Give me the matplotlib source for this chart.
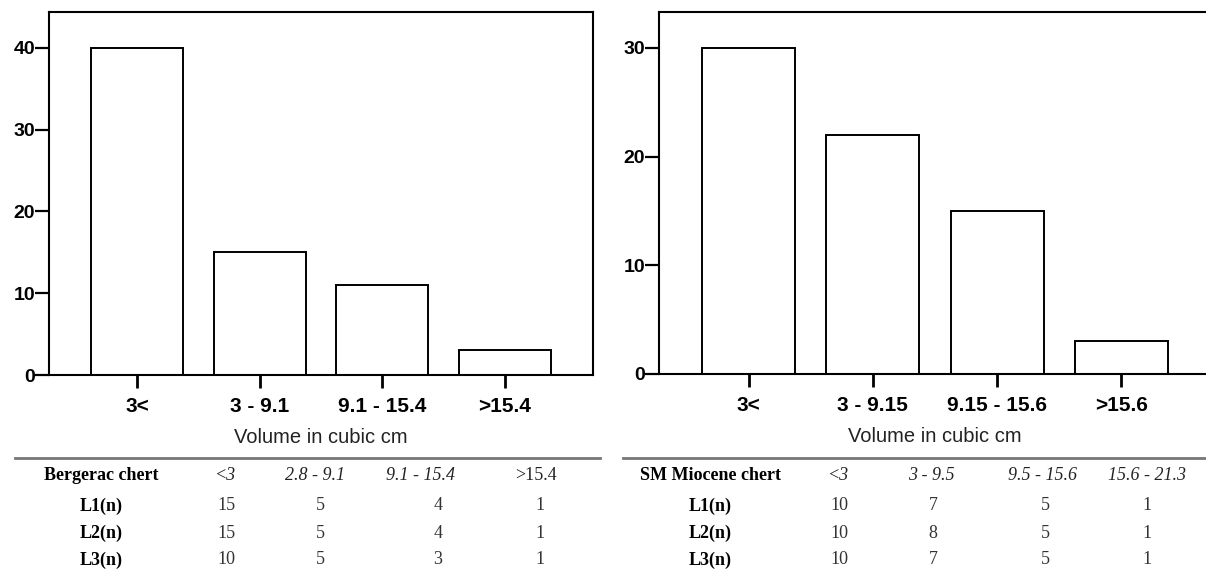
import matplotlib
matplotlib.use('Agg')
import matplotlib.pyplot as plt
from matplotlib.lines import Line2D

# Dados dos histogramas
left_cats = ['3<', '3 - 9.1', '9.1 - 15.4', '>15.4']
left_counts = [40, 15, 11, 3]
right_cats = ['3<', '3 - 9.15', '9.15 - 15.6', '>15.6']
right_counts = [30, 22, 15, 3]

# Dados das tabelas
row_labels = ['L1(n)', 'L2(n)', 'L3(n)']
left_title = 'Bergerac chert'
left_cols = ['<3', '2.8 - 9.1', '9.1 - 15.4', '>15.4']
left_vals = [[15, 5, 4, 1],
             [15, 5, 4, 1],
             [10, 5, 3, 1]]
right_title = 'SM Miocene chert'
right_cols = ['<3', '3 - 9.5', '9.5 - 15.6', '15.6 - 21.3']
right_vals = [[10, 7, 5, 1],
              [10, 8, 5, 1],
              [10, 7, 5, 1]]

W, H = 1206, 576
fig = plt.figure(figsize=(W / 100, H / 100), dpi=100)
SANS = 'Liberation Sans'
SERIF = 'Liberation Serif'


def fx(x):
    return x / W


def fy(y):
    return 1 - y / H


def histograma(x0, x1, y0, y1, cats, counts, ymax, yticks):
    ax = fig.add_axes([fx(x0), fy(y1), (x1 - x0) / W, (y1 - y0) / H])
    pos = list(range(len(cats)))
    ax.bar(pos, counts, width=0.75, color='white', edgecolor='black', linewidth=1.4)
    ax.set_xlim(-0.72, len(cats) - 0.28)
    ax.set_ylim(0, ymax)
    ax.set_xticks(pos)
    ax.set_xticklabels(cats, fontsize=15, fontweight='bold', family=SANS)
    ax.set_yticks(yticks)
    ax.set_yticklabels([str(t) for t in yticks], fontsize=14, fontweight='bold', family=SANS)
    ax.tick_params(axis='y', length=10, width=1.6, pad=0)
    ax.tick_params(axis='x', length=9.5, width=2, pad=6)
    for s in ax.spines.values():
        s.set_linewidth(1.5)
    ax.set_xlabel('Volume in cubic cm', fontsize=14.5, family=SANS, color='#222', labelpad=9)
    return ax


histograma(49, 593, 12, 375, left_cats, left_counts, 44.4, [0, 10, 20, 30, 40])
histograma(659, 1211, 12, 374, right_cats, right_counts, 33.3, [0, 10, 20, 30])


def tabela(x0, x1, title, label_x, col_x, val_x, cols, italic, vals):
    fig.add_artist(Line2D([fx(x0), fx(x1)], [fy(458), fy(458)], transform=fig.transFigure,
                          color='#777777', lw=2))
    y_head = 476
    y_rows = [506, 533, 560]
    fig.text(fx(label_x), fy(y_head), title, ha='center', va='center', family=SERIF,
             fontweight='bold', fontsize=13)
    for c, name in enumerate(cols):
        fig.text(fx(col_x[c]), fy(y_head), name, ha='center', va='center', family=SERIF,
                 style='italic' if italic[c] else 'normal', fontsize=13, color='#222')
    for r, lab in enumerate(row_labels):
        fig.text(fx(label_x), fy(y_rows[r]), lab, ha='center', va='center', family=SERIF,
                 fontweight='bold', fontsize=13)
        for c, v in enumerate(vals[r]):
            fig.text(fx(val_x[c]), fy(y_rows[r]), str(v), ha='center', va='center',
                     family=SERIF, fontsize=13, color='#333')


tabela(15, 600, left_title, 101, [226, 315, 421, 536], [226, 320, 438, 540],
       left_cols, [True, True, True, False], left_vals)
tabela(623, 1206, right_title, 710, [839, 931, 1042, 1147], [839, 933, 1045, 1147],
       right_cols, [True, True, True, True], right_vals)

fig.savefig('out.png', dpi=100)
